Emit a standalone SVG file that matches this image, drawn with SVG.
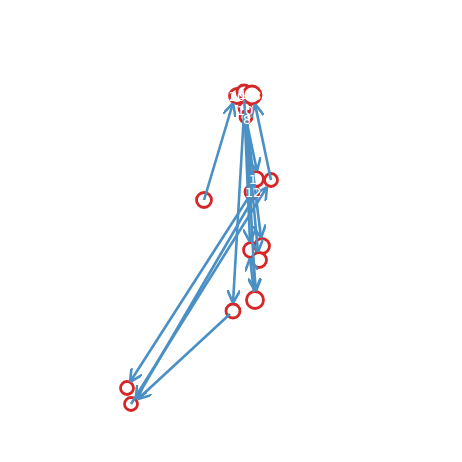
<svg xmlns="http://www.w3.org/2000/svg" width="462" height="462" viewBox="0 0 462 462">
<defs>
<marker id="ah" viewBox="0 0 10 10" refX="10" refY="5" markerWidth="5" markerHeight="5" orient="auto" markerUnits="strokeWidth">
<path d="M0,0 L10,5 L0,10" fill="none" stroke="#4a90c4" stroke-width="2"/>
</marker>
<style>
.e{stroke:#4a90c4;stroke-width:2.6;fill:none;marker-end:url(#ah)}
.n{fill:#fff;stroke:#d62728;stroke-width:2.8}
.t{fill:#fff;font-family:"DejaVu Sans",sans-serif;font-size:13px;text-anchor:middle;dominant-baseline:central}
</style>
</defs>
<rect width="462" height="462" fill="#fff"/>
<g id="nodes">
<g id="nA"><circle class="n" cx="204" cy="200" r="7.5"/></g>
<g id="nE"><circle class="n" cx="251" cy="250" r="7.5"/></g>
<g id="nF"><circle class="n" cx="262" cy="246" r="7.5"/></g>
<g id="nG"><circle class="n" cx="259" cy="260" r="7.5"/></g>
<g id="nH"><circle class="n" cx="255" cy="300" r="8.5"/></g>
<g id="nI"><circle class="n" cx="233" cy="311" r="7"/></g>
<g id="nJ"><circle class="n" cx="127" cy="388" r="6.5"/></g>
<g id="nK"><circle class="n" cx="131" cy="404" r="6.5"/></g>
<g id="n3"><circle class="n" cx="271" cy="180" r="6.5"/></g>
<g id="n1"><circle class="n" cx="256" cy="179" r="7.5"/></g>
<g id="n12"><circle class="n" cx="252" cy="192" r="7"/></g>
<g id="n20"><circle class="n" cx="237" cy="96" r="7.5"/></g>
<g id="n18"><circle class="n" cx="244" cy="92" r="7"/></g>
<g id="n19"><circle class="n" cx="252" cy="95" r="9"/></g>
<g id="n10"><circle class="n" cx="245" cy="108" r="6"/></g>
<g id="n8"><circle class="n" cx="246" cy="117" r="6"/></g>
</g>
<g id="edges">
<line class="e" x1="204" y1="200" x2="233" y2="103"/>
<line class="e" x1="271" y1="180" x2="255" y2="104"/>
<line class="e" x1="245" y1="114" x2="257" y2="171"/>
<line class="e" x1="247" y1="123" x2="261" y2="238"/>
<line class="e" x1="245" y1="123" x2="250" y2="242"/>
<line class="e" x1="244" y1="100" x2="258" y2="252"/>
<line class="e" x1="246" y1="113" x2="255" y2="291"/>
<line class="e" x1="244" y1="113" x2="233" y2="303"/>
<line class="e" x1="252" y1="192" x2="130" y2="382"/>
<line class="e" x1="131" y1="404" x2="267" y2="187"/>
<line class="e" x1="254" y1="197" x2="136" y2="399"/>
<line class="e" x1="230" y1="314" x2="138" y2="399"/>
<line class="e" x1="253" y1="257" x2="256" y2="291"/>
<line class="e" x1="254" y1="292" x2="250" y2="258"/>
</g>
<g id="labels">
<text class="t" x="237" y="96">20</text>
<text class="t" x="247" y="94">19</text>
<text class="t" x="253" y="95">18</text>
<text class="t" x="245" y="110">10</text>
<text class="t" x="247" y="119">8</text>
<text class="t" x="253" y="179">1</text>
<text class="t" x="253" y="192">12</text>
</g>
</svg>
